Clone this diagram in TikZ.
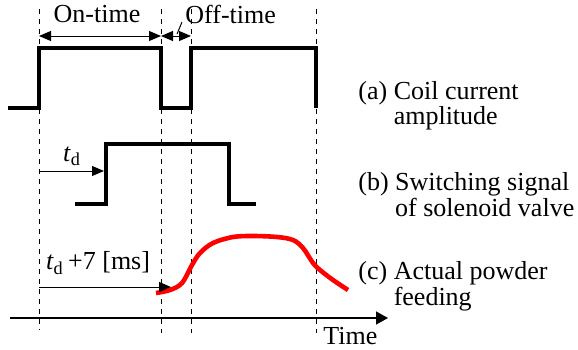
\documentclass[tikz,border=0pt]{standalone}
\usepackage{fontspec}
\setmainfont{Liberation Serif}
\usepackage{xcolor}
\usepackage{tikz}
\usetikzlibrary{positioning,arrows.meta}
\definecolor{crojo}{HTML}{FF0000}
\tikzset{
  pulso/.style={line width=2pt, draw=black},
  curva/.style={line width=2.3pt, draw=crojo},
  guia/.style={line width=0.5pt, dash pattern=on 2.5pt off 2.5pt},
  fino/.style={line width=0.5pt},
  flecha/.style={-{Triangle[length=6pt,width=5pt]}, line width=0.5pt},
  flechas/.style={{Triangle[length=6pt,width=5pt]}-{Triangle[length=6pt,width=5pt]}, line width=0.5pt},
  eje/.style={-{Triangle[length=6pt,width=6.5pt]}, line width=0.7pt},
  etq/.style={font=\fontsize{13}{12.5}\selectfont, inner sep=0pt},
  leyenda/.style={etq, anchor=north west},
}

\begin{document}
\begin{tikzpicture}[x=0.5pt, y=-0.5pt]
  \useasboundingbox (0,0) rectangle (578,349);
  % lineas guia
  \foreach \xg/\yg in {39/330, 161/333, 191/333, 316/333}
    \draw[guia] (\xg,9) -- (\xg,\yg);
  % (a) corriente de la bobina
  \draw[pulso] (8,108) -- (39,108) -- (39,48) -- (161,48) -- (161,108)
    -- (191,108) -- (191,48) -- (316,48) -- (316,108);
  % (b) senal de la valvula
  \draw[pulso] (75,204) -- (106,204) -- (106,144) -- (229,144) -- (229,204) -- (256,204);
  % (c) alimentacion de polvo
  \draw[curva] plot[smooth, tension=0.55] coordinates {(156,293) (170,290) (182,283)
    (192,265) (200,253) (213,243) (233,237) (253,236) (277,237) (293,240)
    (303,248) (313,263) (320,270) (333,280) (348,290)};
  % eje de tiempo
  \coordinate (e0) at (10,318); \coordinate (e1) at (388,318);
  \draw[eje] (e0) -- (e1);
  \node[etq, anchor=west] (tiempo) at (323,336) {Time};

  % etiquetas de tiempo
  \node[etq] (ton) at (97,14) {On-time};
  \node[etq, anchor=west] (toff) at (185,14) {Off-time};
  \coordinate (on1) at (39,36); \coordinate (on2) at (161,36); \coordinate (off2) at (191,36);
  \draw[flechas] (on1) -- (on2);
  \draw[flechas] (on2) -- (off2);
  \coordinate (l0) at (182,22); \coordinate (l1) at (177,34);
  \draw[fino] (l0) -- (l1);

  \node[etq] (td) at (72,156) {\textit{t}\textsubscript{d}};
  \coordinate (td0) at (39,171); \coordinate (td1) at (104,171);
  \draw[flecha] (td0) -- (td1);
  \node[etq] (td7) at (98,263) {\textit{t}\textsubscript{d}\,+7 [ms]};
  \coordinate (tc0) at (39,287); \coordinate (tc1) at (171,287);
  \draw[flecha] (tc0) -- (tc1);

  % leyendas
  \node[leyenda] (la) at (358,81) {\begin{tabular}{@{}l@{ }l@{}}(a)&Coil current\\&amplitude\end{tabular}};
  \node[leyenda] (lb) at (358,172) {\begin{tabular}{@{}l@{ }l@{}}(b)&Switching signal\\&of solenoid valve\end{tabular}};
  \node[leyenda] (lc) at (358,261) {\begin{tabular}{@{}l@{ }l@{}}(c)&Actual powder\\&feeding\end{tabular}};
\end{tikzpicture}
\end{document}
